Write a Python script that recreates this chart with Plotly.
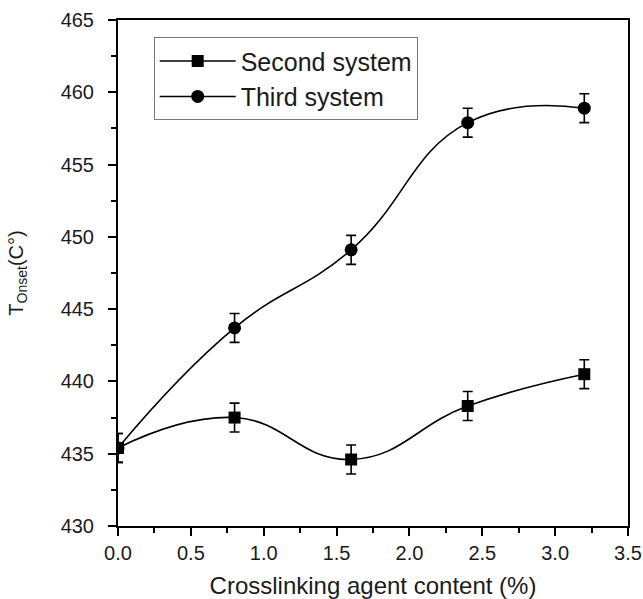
import plotly.graph_objects as go

# Crosslinking agent content (%)
content = [0.0, 0.8, 1.6, 2.4, 3.2]

# Onset temperatures for each system
second_system = [435.4, 437.5, 434.6, 438.3, 440.5]
third_system = [435.4, 443.7, 449.1, 457.9, 458.9]

# Standard deviations
second_err = [1.0, 1.0, 1.0, 1.0, 1.0]
third_err = [1.0, 1.0, 1.0, 1.0, 1.0]

x_ticks = [0.0, 0.5, 1.0, 1.5, 2.0, 2.5, 3.0, 3.5]
y_ticks = [430, 435, 440, 445, 450, 455, 460, 465]

FONT = "Liberation Sans, Arial, sans-serif"
INK = "#1a1a1a"

fig = go.Figure()

fig.add_trace(go.Scatter(
    x=content, y=second_system, name="Second system",
    mode="lines+markers",
    line=dict(color="black", width=1.6, shape="spline", smoothing=1.3),
    marker=dict(symbol="square", size=12, color="black"),
    error_y=dict(type="data", array=second_err, visible=True,
                 color="black", thickness=1.6, width=5),
))

fig.add_trace(go.Scatter(
    x=content, y=third_system, name="Third system",
    mode="lines+markers",
    line=dict(color="black", width=1.6, shape="spline", smoothing=1.3),
    marker=dict(symbol="circle", size=13, color="black"),
    error_y=dict(type="data", array=third_err, visible=True,
                 color="black", thickness=1.6, width=5),
))

axis_common = dict(
    showline=True, linecolor="black", linewidth=2, mirror=True,
    ticks="outside", ticklen=8, tickwidth=2, tickcolor="black",
    showgrid=False, zeroline=False,
    tickfont=dict(family=FONT, size=20, color=INK),
)

fig.update_xaxes(
    range=[0, 3.5], tickvals=x_ticks,
    ticktext=[f"{v:.1f}" for v in x_ticks],
    minor=dict(ticks="outside", ticklen=5, tickwidth=2, tickcolor="black", dtick=0.25),
    ticklabelstandoff=0,
    title=dict(text="Crosslinking agent content (%)",
               font=dict(family=FONT, size=24, color=INK), standoff=14),
    **axis_common,
)

fig.update_yaxes(
    range=[430, 465], tickvals=y_ticks,
    minor=dict(ticks="outside", ticklen=5, tickwidth=2, tickcolor="black", dtick=2.5),
    ticklabelstandoff=10,
    title=dict(text="T<sub>Onset</sub>(C°)",
               font=dict(family=FONT, size=20, color=INK), standoff=32),
    **axis_common,
)

fig.update_layout(
    width=643, height=599,
    margin=dict(l=118, r=15, t=20, b=73, autoexpand=False),
    paper_bgcolor="white", plot_bgcolor="white",
    showlegend=True,
    legend=dict(
        x=0.07, y=0.966, xanchor="left", yanchor="top",
        bgcolor="white", bordercolor="#777", borderwidth=1,
        font=dict(family=FONT, size=25, color=INK),
        itemwidth=76, tracegroupgap=0,
    ),
)

fig.write_html("out.html")
